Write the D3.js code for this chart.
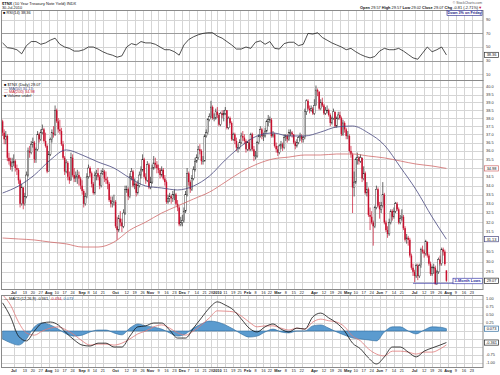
<!DOCTYPE html>
<html>
<head>
<meta charset="utf-8">
<script src="https://cdn.jsdelivr.net/npm/d3@7"></script>
<style>
  body { margin: 0; background: #fff; }
  svg { display: block; }
  text { font-family: "Liberation Sans", Arial, sans-serif; }
</style>
</head>
<body>
<svg id="chart" width="500" height="375"></svg>
<script>
// market holidays inside the charted range (trading calendar)
var holidays = ['2009-07-03','2009-09-07','2009-11-26','2009-12-25','2010-01-01',
  '2010-01-18','2010-02-15','2010-04-02','2010-05-31','2010-07-05'];

// daily $TNX candles, 22-Jun-2009 .. 30-Jul-2010 (one row per month)
var prevClose = 37.9;
var openP = [
  37.8,37.1,36.7,36.9,35.6,35.4,35.1,
  35.3,35.4,35.0,34.9,34.3,33.0,33.9,33.0,33.4,34.6,36.0,35.9,36.4,36.5,35.5,36.1,37.0,36.7,37.1,37.3,36.6,36.3,
  34.8,35.8,36.7,37.1,37.0,38.5,37.8,37.3,37.2,36.4,35.6,34.8,35.3,34.5,34.3,35.6,34.6,34.4,34.5,34.6,34.4,
  34.0,33.7,33.0,33.4,34.5,35.0,34.7,34.1,33.6,34.6,34.7,34.5,34.0,34.7,34.8,34.4,34.3,34.1,33.2,33.0,33.1,
  33.1,31.8,31.6,32.2,32.0,31.8,32.5,33.8,33.8,33.4,34.5,34.8,34.0,34.1,33.6,34.0,34.6,34.9,35.5,34.5,34.3,35.2,
  33.9,34.2,35.0,35.3,35.2,35.0,34.9,34.6,34.9,34.4,34.2,33.1,33.3,33.4,33.3,33.5,33.5,33.0,32.8,31.9,
  32.0,32.1,32.6,33.5,34.7,34.2,33.8,34.4,34.9,35.4,35.6,36.1,36.0,35.4,35.4,36.9,37.1,37.9,38.1,38.7,38.0,38.0,
  38.4,38.2,37.6,38.3,38.2,38.3,38.5,37.4,38.0,37.7,36.7,37.0,36.6,36.2,36.2,36.5,36.9,36.8,36.6,
  36.1,36.5,36.1,37.0,36.1,35.7,35.7,36.5,36.9,37.3,36.9,36.9,37.2,37.8,37.9,37.9,36.9,37.0,36.3,
  36.1,35.9,36.3,36.4,36.2,36.8,36.9,36.7,37.1,37.1,37.0,36.5,36.3,36.5,36.8,36.9,36.7,36.8,38.4,39.1,38.6,38.5,38.6,
  38.3,38.8,39.8,39.7,38.6,39.0,38.8,38.3,38.5,38.5,38.2,37.7,38.0,38.4,37.5,38.0,38.2,38.0,37.0,37.7,37.3,
  36.9,36.9,36.0,35.8,33.9,34.2,35.5,35.6,35.4,35.6,34.4,34.7,33.6,33.8,32.4,32.3,32.0,31.8,32.8,33.8,
  32.9,32.7,32.9,33.5,32.0,31.6,31.4,32.0,32.6,32.3,32.6,33.0,32.7,32.0,32.2,32.3,31.7,31.1,31.2,31.1,30.3,29.7,
  29.5,29.3,29.8,29.3,29.8,30.6,30.5,30.4,31.0,30.3,29.9,29.4,29.7,29.7,28.9,29.5,30.1,29.9,30.6,30.5,29.57
];
var highP = [
  37.9,37.3,37.2,37.0,35.9,35.6,35.6,
  35.8,35.5,35.2,35.0,34.4,34.1,33.9,33.6,34.8,36.2,36.3,36.6,36.8,36.6,36.2,37.2,37.1,37.3,37.6,37.4,37.1,36.4,
  36.0,36.8,37.3,37.5,38.8,38.6,38.0,37.9,37.4,36.6,35.7,35.5,35.4,34.8,35.9,35.8,35.0,34.8,34.9,34.8,34.5,
  34.3,33.8,33.6,34.7,35.2,35.1,34.8,34.2,34.8,34.9,35.0,34.6,34.9,35.0,34.9,34.8,34.5,34.2,33.4,33.4,33.5,
  33.2,32.3,32.4,32.6,32.2,32.7,34.0,34.0,33.9,34.7,35.0,34.9,34.4,34.2,34.3,34.8,35.1,35.8,35.6,34.7,35.4,35.3,
  34.5,35.2,35.7,35.6,35.4,35.2,35.0,35.1,35.0,34.6,34.3,33.5,33.6,33.5,33.7,33.8,33.6,33.2,32.9,32.3,
  32.4,32.8,33.7,35.0,34.8,34.3,34.6,35.1,35.6,35.8,36.3,36.4,36.1,35.7,37.0,37.3,38.0,38.3,39.1,38.8,38.3,38.6,
  38.7,38.3,38.4,38.5,38.5,38.7,38.5,38.1,38.1,37.8,37.1,37.1,36.8,36.4,36.7,37.1,37.2,37.0,36.7,
  36.6,36.7,37.1,37.1,36.3,36.0,36.6,37.0,37.5,37.4,37.1,37.4,37.9,38.2,38.1,38.0,37.2,37.1,36.5,
  36.3,36.4,36.6,36.5,37.0,37.0,37.0,37.3,37.3,37.2,37.0,36.6,36.7,36.9,37.1,37.0,36.9,38.6,39.2,39.2,38.8,38.8,38.7,
  39.2,40.1,39.9,39.7,39.2,39.3,38.9,38.7,38.8,38.6,38.3,38.1,38.6,38.4,38.1,38.4,38.4,38.1,37.9,37.8,37.4,
  37.2,37.0,36.3,35.9,34.8,35.6,35.9,35.7,35.8,35.6,35.1,34.8,34.2,33.9,32.8,32.6,32.1,32.9,34.0,33.9,
  33.1,33.1,34.2,33.6,32.1,31.8,32.2,32.7,32.7,32.8,33.1,33.1,32.8,32.4,32.7,32.4,31.8,31.4,31.3,31.2,30.4,29.9,
  29.6,29.9,29.9,29.9,30.7,30.8,30.6,31.1,31.0,30.4,30.0,29.8,29.9,29.8,29.6,30.2,30.3,30.7,30.7,30.6,29.57
];
var lowP = [
  36.9,36.4,36.4,35.4,35.2,34.9,34.8,
  35.1,34.8,34.6,34.1,32.8,32.9,32.7,32.9,33.3,34.5,35.6,35.8,36.2,35.3,35.3,36.0,36.5,36.6,37.0,36.5,36.2,34.7,
  34.8,35.7,36.5,36.8,36.9,37.7,37.1,37.0,36.3,35.5,34.6,34.7,34.3,34.1,34.3,34.5,34.2,34.2,34.1,34.0,33.8,
  33.5,32.8,32.9,33.3,34.4,34.5,33.9,33.5,33.5,34.3,34.3,33.8,33.9,34.6,34.2,34.1,33.8,33.1,32.8,32.8,32.9,
  31.7,31.1,31.5,31.8,31.5,31.7,32.4,33.6,33.2,33.3,34.3,33.9,33.8,33.4,33.5,33.9,34.4,34.8,34.4,34.1,34.2,33.8,
  33.8,34.1,34.9,35.0,34.7,34.7,34.4,34.5,34.3,34.0,33.0,33.0,33.1,33.0,33.1,33.2,32.9,32.6,31.8,31.8,
  31.8,32.0,32.5,33.4,34.0,33.6,33.7,34.3,34.8,35.3,35.5,35.8,35.2,35.2,35.4,36.8,37.0,37.8,38.0,37.9,37.8,37.9,
  38.0,37.5,37.5,38.0,37.8,38.2,37.3,37.3,37.6,36.6,36.6,36.4,36.0,35.9,36.1,36.4,36.6,36.4,35.9,
  36.0,36.0,36.0,36.0,35.4,35.5,35.6,36.4,36.8,36.7,36.6,36.8,37.1,37.5,37.7,36.8,36.8,36.2,35.9,
  35.7,35.8,36.1,36.0,36.1,36.6,36.5,36.6,36.9,36.8,36.4,36.1,36.2,36.4,36.6,36.5,36.5,36.7,38.2,38.5,38.3,38.4,38.2,
  38.2,38.8,39.4,38.5,38.5,38.7,38.2,38.2,38.3,38.1,37.5,37.6,37.9,37.4,37.4,37.9,37.9,36.9,36.9,37.1,36.7,
  36.7,35.9,35.6,32.5,33.4,34.1,35.2,35.2,35.3,34.2,34.3,33.5,33.4,32.3,31.6,31.9,30.8,31.7,32.7,32.8,
  32.2,32.5,32.8,31.9,31.5,31.2,31.3,31.9,32.1,32.2,32.5,32.6,31.9,31.9,32.1,31.6,31.0,30.9,30.8,30.2,29.6,29.3,
  29.0,29.2,29.1,29.2,29.7,30.4,30.2,30.3,30.2,29.8,29.3,29.3,29.4,28.9,28.9,29.4,29.8,29.8,30.3,29.8,29.02
];
var closeP = [
  37.1,36.7,36.9,35.6,35.4,35.1,35.3,
  35.4,35.0,34.9,34.3,33.0,33.9,33.0,33.4,34.6,36.0,35.9,36.4,36.5,35.5,36.1,37.0,36.7,37.1,37.3,36.6,36.3,34.8,
  35.8,36.7,37.1,37.0,38.5,37.8,37.3,37.2,36.4,35.6,34.8,35.3,34.5,34.3,35.6,34.6,34.4,34.5,34.6,34.4,34.0,
  33.7,33.0,33.4,34.5,35.0,34.7,34.1,33.6,34.6,34.7,34.5,34.0,34.7,34.8,34.4,34.3,34.1,33.2,33.0,33.1,33.1,
  31.8,31.6,32.2,32.0,31.8,32.5,33.8,33.8,33.4,34.5,34.8,34.0,34.1,33.6,34.0,34.6,34.9,35.5,34.5,34.3,35.2,33.9,
  34.2,35.0,35.3,35.2,35.0,34.9,34.6,34.9,34.4,34.2,33.1,33.3,33.4,33.3,33.5,33.5,33.0,32.8,31.9,32.0,
  32.1,32.6,33.5,34.7,34.2,33.8,34.4,34.9,35.4,35.6,36.1,36.0,35.4,35.4,36.9,37.1,37.9,38.1,38.7,38.0,38.0,38.4,
  38.2,37.6,38.3,38.2,38.3,38.5,37.4,38.0,37.7,36.7,37.0,36.6,36.2,36.2,36.5,36.9,36.8,36.6,36.1,
  36.5,36.1,37.0,36.1,35.7,35.7,36.5,36.9,37.3,36.9,36.9,37.2,37.8,37.9,37.9,36.9,37.0,36.3,36.1,
  35.9,36.3,36.4,36.2,36.8,36.9,36.7,37.1,37.1,37.0,36.5,36.3,36.5,36.8,36.9,36.7,36.8,38.4,39.1,38.6,38.5,38.6,38.3,
  38.8,39.8,39.7,38.6,39.0,38.8,38.3,38.5,38.5,38.2,37.7,38.0,38.4,37.5,38.0,38.2,38.0,37.0,37.7,37.3,36.9,
  36.9,36.0,35.8,33.9,34.2,35.5,35.6,35.4,35.6,34.4,34.7,33.6,33.8,32.4,32.3,32.0,31.8,32.8,33.8,32.9,
  32.7,32.9,33.5,32.0,31.6,31.4,32.0,32.6,32.3,32.6,33.0,32.7,32.0,32.2,32.3,31.7,31.1,31.2,31.1,30.3,29.7,29.5,
  29.3,29.8,29.3,29.8,30.6,30.5,30.4,31.0,30.3,29.9,29.4,29.7,29.7,28.9,29.5,30.1,29.9,30.6,30.5,29.88,29.07
];

// moving averages every 10 bars (last one on the final bar)
var ma50 = [33.59,33.98,34.60,35.47,36.06,35.76,35.35,35.00,34.43,33.98,33.87,33.76,33.98,34.54,35.47,
  36.29,36.90,37.08,36.90,36.90,37.14,37.45,37.51,37.08,36.35,35.06,33.76,32.29,31.13];
var ma200 = [31.19,31.14,31.09,30.98,30.89,30.73,30.73,30.98,31.60,32.02,32.50,32.88,33.26,33.64,34.20,
  34.78,35.23,35.53,35.64,35.76,35.76,35.82,35.82,35.70,35.59,35.41,35.23,35.12,34.98];

// RSI(14) read every 3 bars
var rsi = [56,49,48,46,40,52,58,58,54,56,
  60,63,54,50,48,44,44,46,50,50,
  47,43,40,38,35,37,50,55,53,58,
  56,56,54,50,46,46,43,38,53,61,
  65,68,70,71,71,66,63,58,53,47,
  47,50,48,57,59,54,58,48,47,55,
  57,57,52,54,70,69,71,64,60,56,
  53,50,46,48,43,39,36,34,36,44,
  48,46,46,48,44,39,34,32,41,50,
  43,46,50,38.36];

// MACD(12,26,9) and signal read every 5 bars (last one on the final bar)
var macd = [0.88,0.44,-0.16,-0.31,0.00,0.25,0.28,0.19,-0.06,-0.28,-0.44,-0.47,-0.38,-0.38,-0.50,-0.50,
  -0.16,0.13,0.16,0.25,0.25,0.03,-0.22,-0.22,0.09,0.41,0.72,0.91,0.81,0.66,0.38,0.09,-0.03,0.13,0.22,
  0.06,-0.03,0.09,0.06,0.44,0.56,0.41,0.25,0.00,-0.38,-0.56,-0.84,-1.03,-0.81,-0.50,-0.50,-0.66,-0.81,
  -0.63,-0.53,-0.44,-0.361];
var signal = [1.13,0.81,0.28,-0.06,-0.13,0.00,0.09,0.13,0.03,-0.12,-0.31,-0.44,-0.41,-0.41,-0.44,-0.38,
  -0.25,-0.09,0.00,0.13,0.19,0.09,-0.06,-0.13,0.00,0.19,0.41,0.63,0.62,0.60,0.47,0.28,0.13,0.16,0.16,
  0.09,0.03,0.09,0.06,0.28,0.37,0.32,0.28,0.13,-0.16,-0.31,-0.56,-0.72,-0.78,-0.63,-0.63,-0.66,-0.72,
  -0.66,-0.66,-0.56,-0.434];

// axis ticks
var tickDates = ['2009-07-01','2009-07-13','2009-07-20','2009-07-27','2009-08-03','2009-08-10','2009-08-17',
  '2009-08-24','2009-09-01','2009-09-08','2009-09-14','2009-09-21','2009-10-01','2009-10-12','2009-10-19',
  '2009-10-26','2009-11-02','2009-11-09','2009-11-16','2009-11-23','2009-12-01','2009-12-07','2009-12-14',
  '2009-12-21','2009-12-28','2010-01-04','2010-01-11','2010-01-19','2010-01-25','2010-02-01','2010-02-08',
  '2010-02-16','2010-02-22','2010-03-01','2010-03-08','2010-03-15','2010-03-22','2010-04-01','2010-04-12',
  '2010-04-19','2010-04-26','2010-05-03','2010-05-10','2010-05-17','2010-05-24','2010-06-01','2010-06-07',
  '2010-06-14','2010-06-21','2010-07-01','2010-07-12','2010-07-19','2010-07-26','2010-08-02','2010-08-09',
  '2010-08-16','2010-08-23'];
var tickLabels = ['Jul','13','20','27','Aug','10','17','24','Sep','8','14','21','Oct','12','19','26','Nov','9',
  '16','23','Dec','7','14','21','28','2010','11','19','25','Feb','8','16','22','Mar','8','15','22','Apr','12',
  '19','26','May','10','17','24','Jun','7','14','21','Jul','12','19','26','Aug','9','16','23'];
var priceTicks = [29.0,29.5,30.0,30.5,31.0,31.5,32.0,32.5,33.0,33.5,34.0,34.5,35.0,35.5,36.0,36.5,
  37.0,37.5,38.0,38.5,39.0,39.5,40.0];
var rsiTicks = [10,30,50,70,90];
var macdTicks = [-1.00,-0.75,-0.50,-0.25,0.00,0.25,0.50,0.75,1.00];
var lowLevel = 28.95, lowStart = 258;

// ---------------------------------------------------------------
var svg = d3.select('#chart');
var fmt = d3.timeFormat('%Y-%m-%d');
var days = d3.timeDay.range(new Date(2009, 5, 22), new Date(2010, 8, 1))
  .filter(function(d){ return d.getDay() > 0 && d.getDay() < 6 && holidays.indexOf(fmt(d)) < 0; })
  .map(fmt);
if (days[closeP.length - 1] !== '2010-07-30') throw new Error('calendar off ' + days[closeP.length - 1]);
[openP, highP, lowP].forEach(function(a){
  if (a.length !== closeP.length) throw new Error('ohlc length ' + a.length);
});

var L = 1, R = 483;
var rsiTop = 10.5, rsiBot = 80.5, mainTop = 80.5, mainBot = 289.5, macdTop = 295.5, macdBot = 367.5;
var red = '#c8102e', blue = '#46467e', pink = '#d06a6a';

var x = d3.scaleLinear().domain([-1, 302]).range([L, R]);
var yP = d3.scaleLog().domain([29, 40]).range([282.2, 87]);
var yR = d3.scaleLinear().domain([0, 100]).range([81, 13]);
var yM = d3.scaleLinear().domain([-1, 1]).range([363, 299]);

var tickIdx = tickDates.map(function(d){ return days.indexOf(d); });
function px(v) { return Math.round(v) + 0.5; }

var defs = svg.append('defs');
function clip(id, top, bot) {
  defs.append('clipPath').attr('id', id).append('rect')
    .attr('x', L).attr('y', top).attr('width', R - L).attr('height', bot - top);
}
clip('cR', rsiTop, rsiBot); clip('cP', mainTop, mainBot); clip('cM', macdTop, macdBot);

function grid(top, bot, ys) {
  var g = svg.append('g').attr('stroke', '#d5d5d5').attr('stroke-width', 1);
  g.selectAll(null).data(tickIdx).enter().append('line')
    .attr('x1', function(d){ return px(x(d)); }).attr('x2', function(d){ return px(x(d)); })
    .attr('y1', top).attr('y2', bot);
  g.selectAll(null).data(ys).enter().append('line')
    .attr('x1', L).attr('x2', R)
    .attr('y1', function(d){ return px(d); }).attr('y2', function(d){ return px(d); });
}
function border(top, bot) {
  svg.append('rect').attr('x', L + 0.5).attr('y', top).attr('width', R - L - 0.5)
    .attr('height', bot - top).attr('fill', 'none').attr('stroke', '#8a8a8a').attr('stroke-width', 1);
}
// axis labels on the right, leaving out any that a value box would cover
function rightLabels(ticks, scale, f, boxes) {
  var shown = ticks.filter(function(t){
    return boxes.every(function(b){ return Math.abs(scale(t) - b) > 5.6; });
  });
  svg.append('g').selectAll(null).data(shown).enter().append('text')
    .attr('x', 486).attr('y', function(d){ return scale(d) + 1.4; })
    .attr('font-size', 3.9).attr('fill', '#333').text(f);
}
function valueBox(y, txt, col) {
  svg.append('rect').attr('x', 484.5).attr('y', y - 2.6).attr('width', 14).attr('height', 5.2)
    .attr('fill', '#fff').attr('stroke', col).attr('stroke-width', 0.7);
  svg.append('text').attr('x', 491.5).attr('y', y + 1.4).attr('text-anchor', 'middle')
    .attr('font-size', 3.9).attr('fill', '#111').text(txt);
}

// ---- RSI panel ----
grid(rsiTop, rsiBot, rsiTicks.map(yR));
svg.append('g').selectAll(null).data([70, 30]).enter().append('line')
  .attr('x1', L).attr('x2', R)
  .attr('y1', function(d){ return px(yR(d)); }).attr('y2', function(d){ return px(yR(d)); })
  .attr('stroke', '#8c8c8c').attr('stroke-width', 0.8);
var rsiBars = d3.range(0, closeP.length, 3);
svg.append('path').attr('clip-path', 'url(#cR)')
  .attr('d', d3.line()(rsiBars.map(function(b, k){ return [x(b), yR(rsi[k])]; })))
  .attr('fill', 'none').attr('stroke', '#222').attr('stroke-width', 0.8);
border(rsiTop, rsiBot);
var rsiLast = yR(rsi[rsi.length - 1]);
rightLabels(rsiTicks, yR, function(d){ return d; }, [rsiLast]);
valueBox(rsiLast, '38.36', '#333');

// ---- price panel ----
grid(mainTop, mainBot, priceTicks.map(yP));
var cg = svg.append('g').attr('clip-path', 'url(#cP)');
function col(i) { return closeP[i] < (i ? closeP[i - 1] : prevClose) ? red : '#2a2a2a'; }
var bars = d3.range(closeP.length);
var cand = cg.selectAll('g.cd').data(bars).enter().append('g').attr('class', 'cd');
cand.append('line')
  .attr('x1', function(i){ return x(i); }).attr('x2', function(i){ return x(i); })
  .attr('y1', function(i){ return yP(highP[i]); }).attr('y2', function(i){ return yP(lowP[i]); })
  .attr('stroke', col).attr('stroke-width', 0.7);
cand.append('rect')
  .attr('x', function(i){ return x(i) - 0.75; }).attr('width', 1.5)
  .attr('y', function(i){ return yP(Math.max(openP[i], closeP[i])); })
  .attr('height', function(i){ return Math.max(0.6, Math.abs(yP(openP[i]) - yP(closeP[i]))); })
  .attr('fill', function(i){ return closeP[i] < openP[i] ? col(i) : '#fff'; })
  .attr('stroke', col)
  .attr('stroke-width', function(i){ return closeP[i] < openP[i] ? 0 : 0.45; });

var maBars = d3.range(0, closeP.length, 10).concat([closeP.length - 1]);
var smooth = d3.line().curve(d3.curveMonotoneX);
cg.append('path').attr('d', smooth(maBars.map(function(b, k){ return [x(b), yP(ma200[k])]; })))
  .attr('fill', 'none').attr('stroke', pink).attr('stroke-width', 0.8);
cg.append('path').attr('d', smooth(maBars.map(function(b, k){ return [x(b), yP(ma50[k])]; })))
  .attr('fill', 'none').attr('stroke', blue).attr('stroke-width', 0.8);

// 3-month low annotation
svg.append('line').attr('x1', x(lowStart)).attr('x2', 453).attr('y1', yP(lowLevel)).attr('y2', yP(lowLevel))
  .attr('stroke', '#3a3aa8').attr('stroke-width', 0.8);
svg.append('rect').attr('x', 453).attr('y', yP(lowLevel) - 5).attr('width', 29.5).attr('height', 5.5)
  .attr('fill', '#fff').attr('stroke', '#3a3aa8').attr('stroke-width', 0.7);
svg.append('text').attr('x', 467.7).attr('y', yP(lowLevel) - 0.9).attr('text-anchor', 'middle')
  .attr('font-size', 3.9).attr('font-weight', 'bold').attr('fill', '#2a2aa0').text('3-Month Lows');

border(mainTop, mainBot);
var pBoxes = [yP(ma200[ma200.length - 1]), yP(ma50[ma50.length - 1]), yP(closeP[closeP.length - 1])];
rightLabels(priceTicks, yP, function(d){ return d.toFixed(1); }, pBoxes);
valueBox(pBoxes[0], '34.98', pink);
valueBox(pBoxes[1], '31.13', blue);
valueBox(pBoxes[2], '29.07', '#222');

// legend
var leg = svg.append('g').attr('font-size', 3.9);
[['\u25A0 $TNX (Daily) 29.07', '#111'], ['\u2014 MA(50) 31.13', blue],
 ['\u2014 MA(200) 34.98', red], ['\u25A0 Volume undef', '#111']].forEach(function(r, k){
  leg.append('text').attr('x', 4).attr('y', 86 + k * 3.6).attr('fill', r[1]).text(r[0]);
});

// ---- MACD panel ----
grid(macdTop, macdBot, macdTicks.map(yM));
var mBars = d3.range(0, closeP.length, 5).concat([closeP.length - 1]);
var mg = svg.append('g').attr('clip-path', 'url(#cM)');
var hist = mBars.map(function(b, k){ return [x(b), yM(macd[k] - signal[k])]; });
mg.append('path')
  .attr('d', d3.area().curve(d3.curveMonotoneX).x(function(d){ return d[0]; })
    .y0(yM(0)).y1(function(d){ return d[1]; })(hist))
  .attr('fill', '#5b9bcf').attr('stroke', '#2d6a9c').attr('stroke-width', 0.6);
mg.append('path').attr('d', smooth(mBars.map(function(b, k){ return [x(b), yM(signal[k])]; })))
  .attr('fill', 'none').attr('stroke', '#e07a7a').attr('stroke-width', 0.8);
mg.append('path').attr('d', smooth(mBars.map(function(b, k){ return [x(b), yM(macd[k])]; })))
  .attr('fill', 'none').attr('stroke', '#111').attr('stroke-width', 0.8);
border(macdTop, macdBot);
var mBoxes = [yM(macd[macd.length - 1] - signal[signal.length - 1]), yM(macd[macd.length - 1])];
rightLabels(macdTicks, yM, function(d){ return d.toFixed(2); }, mBoxes);
valueBox(mBoxes[0], '0.073', '#2d6a9c');
valueBox(mBoxes[1], '-0.361', '#222');
var ml = svg.append('text').attr('x', 4).attr('y', 299.6).attr('font-size', 3.9).attr('fill', '#111');
ml.append('tspan').text('\u2014 MACD(12,26,9) -0.361, ');
ml.append('tspan').attr('fill', red).text('-0.434, ');
ml.append('tspan').attr('fill', '#2d6a9c').text('0.073');

// ---- date labels (two rows) ----
[294.2, 372.4].forEach(function(yy){
  svg.append('g').selectAll(null).data(tickIdx).enter().append('text')
    .attr('x', function(d){ return x(d); }).attr('y', yy)
    .attr('text-anchor', 'middle').attr('font-size', 3.9).attr('fill', '#222')
    .attr('font-weight', function(d, k){ return isNaN(+tickLabels[k]) || tickLabels[k] === '2010' ? 'bold' : 'normal'; })
    .text(function(d, k){ return tickLabels[k]; });
});

// ---- header ----
var t1 = svg.append('text').attr('x', 2).attr('y', 4.6).attr('font-size', 4).attr('fill', '#111');
t1.append('tspan').attr('font-weight', 'bold').text('$TNX');
t1.append('tspan').text(' (10 Year Treasury Note Yield) INDX');
svg.append('text').attr('x', 2).attr('y', 9.2).attr('font-size', 3.8).attr('fill', '#111').text('30-Jul-2010');
var rl = svg.append('text').attr('x', 3).attr('y', 14.2).attr('font-size', 3.9).attr('fill', '#111');
rl.text('\u25A0 RSI(14) 38.36');
svg.append('text').attr('x', 482).attr('y', 3.6).attr('text-anchor', 'end').attr('font-size', 3.4)
  .attr('fill', '#555').text('\u00A9 StockCharts.com');
var q = svg.append('text').attr('x', 482).attr('y', 8.6).attr('text-anchor', 'end').attr('font-size', 3.9).attr('fill', '#111');
[['Open', ' 29.57 '], ['High', ' 29.57 '], ['Low', ' 29.02 '], ['Close', ' 29.07 '], ['Chg', ' -0.81 (-2.71%)']]
  .forEach(function(p){
    q.append('tspan').attr('font-weight', 'bold').text(p[0]);
    q.append('tspan').text(p[1]);
  });
q.append('tspan').attr('fill', red).text('\u25BC');
svg.append('rect').attr('x', 447).attr('y', 10.3).attr('width', 35).attr('height', 5)
  .attr('fill', '#fff').attr('stroke', '#22228a').attr('stroke-width', 0.6);
svg.append('text').attr('x', 464.5).attr('y', 14).attr('text-anchor', 'middle').attr('font-size', 3.7)
  .attr('font-weight', 'bold').attr('fill', '#22228a').text('Down 3% on Friday');
</script>
</body>
</html>
